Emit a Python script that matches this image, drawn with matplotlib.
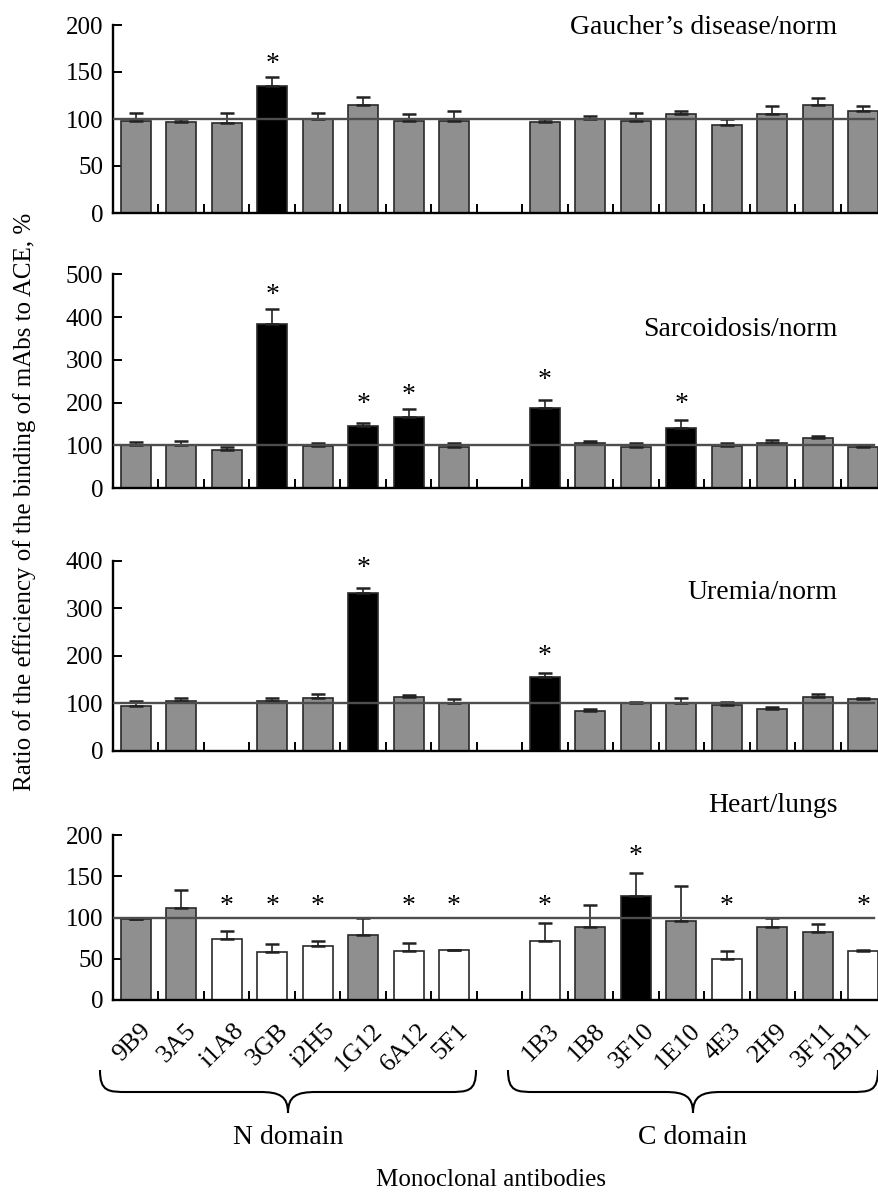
import matplotlib
matplotlib.use("Agg")
import matplotlib.pyplot as plt
from matplotlib.path import Path
from matplotlib.patches import PathPatch
import numpy as np

plt.rcParams['font.family'] = ['Liberation Serif', 'DejaVu Serif']

# antibodies, N domain then C domain (one empty slot between them)
n_domain = ["9B9", "3A5", "i1A8", "3GB", "i2H5", "1G12", "6A12", "5F1"]
c_domain = ["1B3", "1B8", "3F10", "1E10", "4E3", "2H9", "3F11", "2B11"]

titles = ["Gaucher\u2019s disease/norm", "Sarcoidosis/norm", "Uremia/norm", "Heart/lungs"]

gaucher_vals = [98, 96.5, 95.5, 135, 99.5, 115, 98, 98, 96.5, 99.5, 98, 105, 94, 105, 115, 108]
gaucher_err = [8, 4, 11, 9.5, 7, 8.5, 7, 11, 3, 4, 8, 3.5, 5.5, 8.5, 7, 6]
gaucher_col = "gggkgggg" + "gggggggg"
gaucher_stars = {3: 166}

sarc_vals = [101, 101, 89, 385, 98, 145, 167, 96, 188, 105, 96, 142, 98, 105, 117, 96]
sarc_err = [6.5, 10, 8, 35, 7, 8, 18, 9, 18, 5.5, 9, 18, 7, 8.5, 6, 2]
sarc_col = "gggkgkkg" + "kggkgggg"
sarc_stars = {3: 467, 5: 214, 6: 235, 8: 269, 11: 214}

uremia_vals = [95, 105, np.nan, 105, 111, 332, 114, 99.5, 156, 84, 99.5, 99.5, 96.5, 88, 114, 108]
uremia_err = [10.5, 6, 0, 6, 8, 10.5, 3, 9, 7.5, 3, 3.5, 11.7, 6, 3.5, 5.5, 3.5]
uremia_col = "gggggkgg" + "kggggggg"
uremia_stars = {5: 399, 8: 213}

heart_vals = [98, 112, 73.5, 58, 66, 79, 59.5, 61, 71, 88, 126.5, 96, 50, 88, 83, 59.5]
heart_err = [0, 21, 10, 10, 5, 20.5, 9.5, 0, 22, 27, 27, 42, 9.5, 11, 9.5, 1]
heart_col = "ggwwwgww" + "wgkgwggw"
heart_stars = {2: 122, 3: 122, 4: 122, 6: 122, 7: 122, 8: 122, 10: 183, 12: 122, 15: 122}

ymax = [200, 500, 400, 200]
ystep = [50, 100, 100, 50]

panels = [
    (gaucher_vals, gaucher_err, gaucher_col, gaucher_stars),
    (sarc_vals, sarc_err, sarc_col, sarc_stars),
    (uremia_vals, uremia_err, uremia_col, uremia_stars),
    (heart_vals, heart_err, heart_col, heart_stars),
]

W, H = 879, 1193
fig = plt.figure(figsize=(W / 100, H / 100), dpi=100)

# panel boxes in pixels: (top, bottom)
boxes = [(25, 213), (274.3, 488.3), (560.7, 750.7), (835, 1000)]
title_pos = [0.989, 0.74, 0.835, 1.18]
x_left, x_right = 113, 886

names = n_domain + c_domain
slots = list(range(len(n_domain))) + [len(n_domain) + 1 + i for i in range(len(c_domain))]
n_slots = len(n_domain) + len(c_domain) + 1

fill = {"g": "#8f8f8f", "k": "#000000", "w": "#ffffff"}

for p, (vals, errs, cols, stars) in enumerate(panels):
    top, bot = boxes[p]
    ax = fig.add_axes([x_left / W, (H - bot) / H, (x_right - x_left) / W, (bot - top) / H])
    colors = [fill[c] for c in cols]
    ax.bar(slots, vals, width=0.66, color=colors, edgecolor="#2a2a2a", linewidth=1.2, zorder=2)
    ax.errorbar(slots, vals, yerr=[np.zeros(len(errs)), errs], fmt="none", ecolor="#222222",
                elinewidth=1.2, capsize=5, capthick=1.8, zorder=3)
    ax.axhline(100, xmin=0, xmax=0.985, color="#4d4d4d", linewidth=1.7, zorder=4)

    for i, sy in stars.items():
        ax.annotate("*", (slots[i], sy), xytext=(0, -10), textcoords="offset points",
                    ha="center", va="baseline", fontsize=20, annotation_clip=False)

    ax.set_xlim(-0.5, n_slots - 0.5)
    ax.set_ylim(0, ymax[p])
    ax.set_yticks(np.arange(0, ymax[p] + 1, ystep[p]))
    ax.set_xticks([])
    ax.set_xticks(np.arange(0.5, n_slots - 0.5, 1), minor=True)
    ax.tick_params(axis="x", which="minor", direction="in", length=6.5, width=1.4, color="black")
    ax.tick_params(axis="y", direction="in", length=6.5, width=1.4, labelsize=18, pad=7)

    for s in ["top", "right"]:
        ax.spines[s].set_visible(False)
    for s in ["left", "bottom"]:
        ax.spines[s].set_linewidth(1.7)

    ax.text(0.937, title_pos[p], titles[p], transform=ax.transAxes, ha="right", va="center",
            fontsize=20)

    if p == 3:
        for k, name in enumerate(names):
            dx = -10 if k == len(names) - 1 else -3
            ax.annotate(name, (slots[k], 0), xycoords=("data", "axes fraction"),
                        xytext=(dx, -14), textcoords="offset points", rotation=45,
                        ha="center", va="top", fontsize=18.5, annotation_clip=False)


def brace(x0, x1, ytop, ymid, ytip, r=28):
    xc = (x0 + x1) / 2
    pts = [(x0, ytop), (x0, ymid), (x0 + r * 0.3, ymid), (x0 + r, ymid),
           (xc - r, ymid),
           (xc - r * 0.3, ymid), (xc, ymid + 0.2 * (ytip - ymid)), (xc, ytip),
           (xc, ymid + 0.2 * (ytip - ymid)), (xc + r * 0.3, ymid), (xc + r, ymid),
           (x1 - r, ymid),
           (x1 - r * 0.3, ymid), (x1, ymid), (x1, ytop)]
    codes = [Path.MOVETO, Path.CURVE4, Path.CURVE4, Path.CURVE4, Path.LINETO,
             Path.CURVE4, Path.CURVE4, Path.CURVE4,
             Path.CURVE4, Path.CURVE4, Path.CURVE4, Path.LINETO,
             Path.CURVE4, Path.CURVE4, Path.CURVE4]
    pts = [(x / W, (H - y) / H) for x, y in pts]
    fig.patches.append(PathPatch(Path(pts, codes), transform=fig.transFigure,
                                 facecolor="none", edgecolor="black", linewidth=1.5))


brace(100, 476, 1070, 1092, 1113)
brace(508, 878, 1070, 1092, 1113)

fig.text(288 / W, (H - 1137) / H, "N domain", ha="center", va="center", fontsize=20)
fig.text(693 / W, (H - 1137) / H, "C domain", ha="center", va="center", fontsize=20)
fig.text(491 / W, (H - 1180) / H, "Monoclonal antibodies", ha="center", va="center", fontsize=18)
fig.text(25 / W, (H - 502) / H, "Ratio of the efficiency of the binding of mAbs to ACE, %",
         rotation=90, ha="center", va="center", fontsize=18)

fig.savefig("out.png", dpi=100)
